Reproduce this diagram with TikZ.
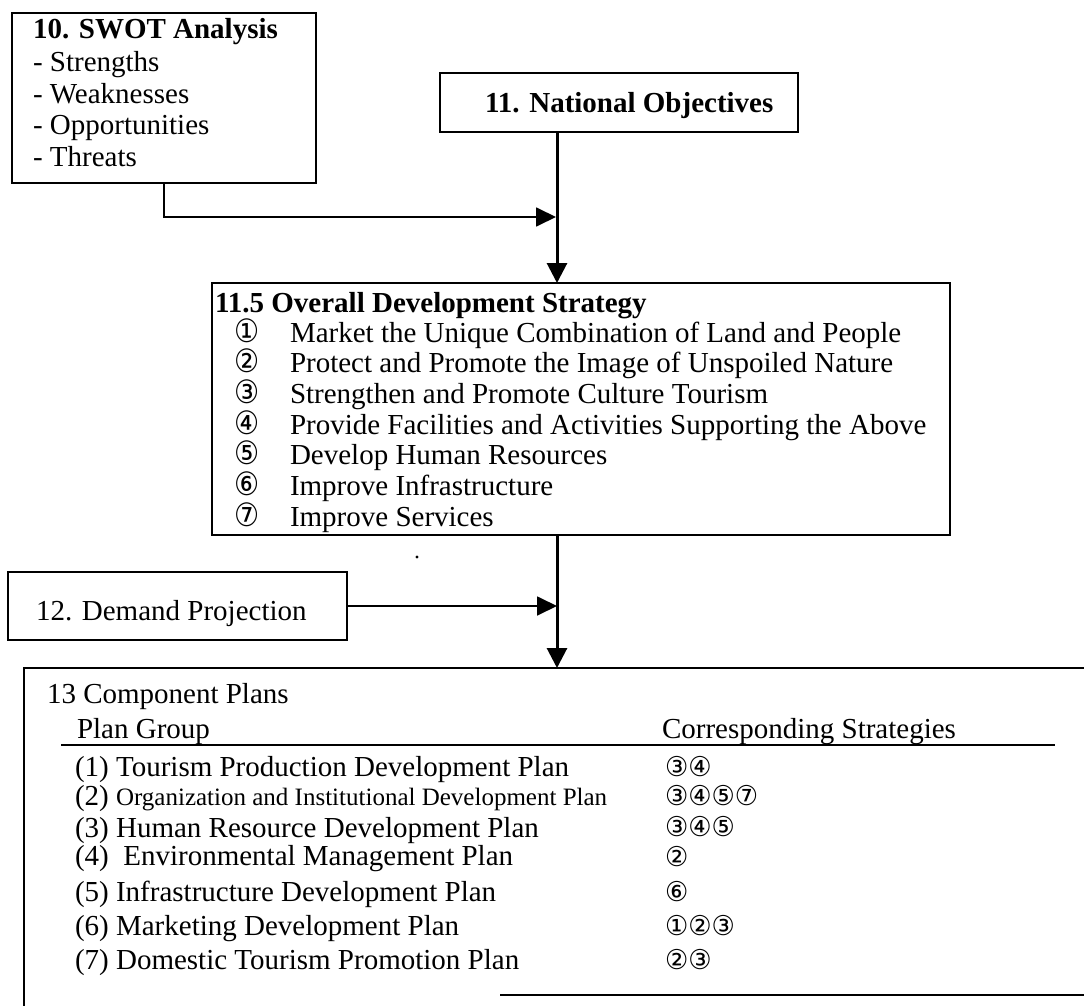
\documentclass[tikz,border=0pt]{standalone}
\usepackage{graphicx}
\usepackage{fontspec}
\setmainfont{Liberation Serif}
\newfontfamily\circfont{DejaVu Sans}
\usetikzlibrary{arrows.meta}
% circled strategy numbers
\newcommand{\cn}[1]{\scalebox{1}[1.15]{\circfont\fontsize{28}{28}\selectfont #1}}
\newcommand{\cnt}[1]{\scalebox{1}[1.05]{\circfont\fontsize{26}{26}\selectfont #1}}

\begin{document}
\begin{tikzpicture}[x=1pt,y=-1pt,
  every node/.style={inner sep=0pt, outer sep=0pt},
  frame/.style={draw, line width=2pt, anchor=north west, inner sep=0pt},
  txt/.style={anchor=base west, font=\fontsize{29}{34}\selectfont},
  head/.style={anchor=base west, font=\fontsize{29}{34}\selectfont\bfseries},
  circ/.style={anchor=base west},
  link/.style={line width=1.8pt, -{Triangle[length=20pt,width=19pt]}},
  trunk/.style={line width=3pt, -{Triangle[length=20pt,width=20pt]}},
  rule/.style={line width=2pt},
]
\useasboundingbox (0,0) rectangle (1084,1006);

% main flow axis
\coordinate (axis) at (557,0);

% ---- 10. SWOT analysis
\node[frame, minimum width=304pt, minimum height=170pt] (swot) at (12,13) {};
\node[head] (swotT) at (33,39) {10. SWOT Analysis};
\node[txt] (swot1) at (33,72) {- Strengths};
\node[txt] (swot2) at (33,104) {- Weaknesses};
\node[txt] (swot3) at (33,135) {- Opportunities};
\node[txt] (swot4) at (33,166) {- Threats};

% ---- 11. National objectives
\node[frame, minimum width=358pt, minimum height=59pt] (natl) at (440,73) {};
\node[head] (natlT) at (485,113) {11. National Objectives};

% ---- 11.5 Overall development strategy
\node[frame, minimum width=738pt, minimum height=252pt] (strat) at (212,283) {};
\node[head] (stratT) at (215,312) {11.5 Overall Development Strategy};
\foreach \n/\c/\t [count=\k from 0] in {
  s1/①/Market the Unique Combination of Land and People,
  s2/②/Protect and Promote the Image of Unspoiled Nature,
  s3/③/Strengthen and Promote Culture Tourism,
  s4/④/Provide Facilities and Activities Supporting the Above,
  s5/⑤/Develop Human Resources,
  s6/⑥/Improve Infrastructure,
  s7/⑦/Improve Services} {
  \node[circ] (\n c) at (234,342+30.7*\k) {\cn{\c}};
  \node[txt] (\n) at (290,342+30.7*\k) {\t};
}

% ---- 12. Demand projection
\node[frame, minimum width=339pt, minimum height=68pt] (demand) at (8,572) {};
\node[txt] (demandT) at (36,620) {12. Demand Projection};

% ---- 13 Component plans (frame runs past the right edge)
\coordinate (plantop) at (557,668);
\draw[rule] (1084,668) -- (24,668) -- (24,1006);
\draw[rule] (500,995) -- (1084,995);
\node[txt] (plansT) at (47,703) {13 Component Plans};
\node[txt] (colA) at (77,738) {Plan Group};
\node[txt] (colB) at (662,738) {Corresponding Strategies};
\draw[line width=1.6pt] (61,745) -- (1055,745);

\node[txt] (p1) at (75,776) {(1) Tourism Production Development Plan};
\node[txt] (p2) at (75,805) {(2) {\fontsize{25}{30}\selectfont Organization and Institutional Development Plan}};
\node[txt] (p3) at (75,837) {(3) Human Resource Development Plan};
\node[txt] (p4) at (75,865) {(4)\ \ Environmental Management Plan};
\node[txt] (p5) at (75,901) {(5) Infrastructure Development Plan};
\node[txt] (p6) at (75,935) {(6) Marketing Development Plan};
\node[txt] (p7) at (75,969) {(7) Domestic Tourism Promotion Plan};

\node[circ] (c1) at (665,776) {\cnt{③④}};
\node[circ] (c2) at (665,805) {\cnt{③④⑤⑦}};
\node[circ] (c3) at (665,836) {\cnt{③④⑤}};
\node[circ] (c4) at (665,866) {\cnt{②}};
\node[circ] (c5) at (665,901) {\cnt{⑥}};
\node[circ] (c6) at (665,935) {\cnt{①②③}};
\node[circ] (c7) at (665,969) {\cnt{②③}};

% ---- connectors
\coordinate (join1) at (556,217);
\draw[link] (swot.south) |- (join1);
\draw[trunk] (natl.south -| axis) -- (strat.north -| axis);
\draw[link] (demand.east) -- (demand.east -| axis);
\draw[trunk] (strat.south -| axis) -- (plantop);

% stray dot below the strategy box
\fill (417,557) circle (1.6);
\end{tikzpicture}
\end{document}
